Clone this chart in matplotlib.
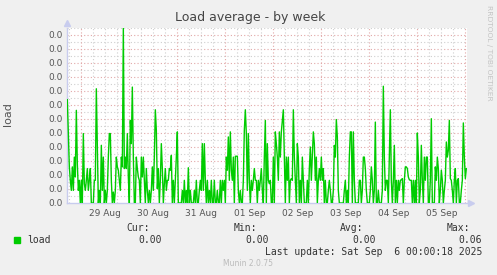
import numpy as np
import pandas as pd
import matplotlib
matplotlib.use('Agg')
import matplotlib.pyplot as plt
from matplotlib.ticker import FuncFormatter

# load average, 30 minute samples
load = [
    0.0369, 0.0248, 0.0129, 0.0081, 0.0045, 0.0129, 0.0045, 0.0164, 0.0093, 0.0331, 0.0140,
    0.0045, 0.0081, 0.0000, 0.0081, 0.0000, 0.0248, 0.0069, 0.0045, 0.0081, 0.0123,
    0.0045, 0.0081,
    0.0123, 0.0000, 0.0000, 0.0000, 0.0081, 0.0081, 0.0408, 0.0212, 0.0000,
    0.0045, 0.0000, 0.0206, 0.0045, 0.0164, 0.0000, 0.0045, 0.0000, 0.0045, 0.0164,
    0.0248, 0.0248, 0.0081, 0.0000, 0.0039, 0.0000, 0.0045, 0.0164, 0.0129, 0.0117,
    0.0081, 0.0045, 0.0164, 0.0129, 0.0626, 0.0123, 0.0164, 0.0123, 0.0248, 0.0093,
    0.0000, 0.0295, 0.0212, 0.0414, 0.0164, 0.0000, 0.0000, 0.0164, 0.0123, 0.0093,
    0.0081, 0.0000, 0.0164, 0.0093, 0.0164, 0.0081, 0.0000, 0.0123, 0.0045, 0.0000,
    0.0045, 0.0000, 0.0045, 0.0129, 0.0045, 0.0164, 0.0333, 0.0260, 0.0051, 0.0123,
    0.0000, 0.0081, 0.0212, 0.0123, 0.0000, 0.0069, 0.0123, 0.0045, 0.0081, 0.0081,
    # 30/31 Aug
    0.0123, 0.0117, 0.0170, 0.0000, 0.0081, 0.0000, 0.0081, 0.0164, 0.0254, 0.0000,
    0.0000, 0.0000, 0.0000, 0.0045, 0.0000, 0.0081, 0.0000, 0.0045, 0.0000, 0.0126,
    0.0000, 0.0045, 0.0000, 0.0000, 0.0000, 0.0045, 0.0000, 0.0081, 0.0000, 0.0000,
    0.0045, 0.0081, 0.0045, 0.0212, 0.0045, 0.0212, 0.0081, 0.0000, 0.0081, 0.0000,
    0.0045, 0.0000, 0.0081, 0.0000, 0.0000, 0.0081, 0.0000, 0.0000, 0.0045, 0.0000,
    0.0000, 0.0081, 0.0000, 0.0081, 0.0045, 0.0081, 0.0000, 0.0164, 0.0117, 0.0236,
    0.0081, 0.0254, 0.0117, 0.0081, 0.0164, 0.0000, 0.0167, 0.0167, 0.0167, 0.0045,
    0.0000, 0.0045, 0.0000, 0.0000, 0.0081, 0.0260, 0.0333, 0.0248, 0.0045, 0.0248,
    0.0081, 0.0000, 0.0081, 0.0045, 0.0081, 0.0123, 0.0081, 0.0081, 0.0000, 0.0081,
    0.0045, 0.0081, 0.0123, 0.0045, 0.0000, 0.0164, 0.0295, 0.0000, 0.0212, 0.0081,
    0.0069,
    # 01/02 Sep
    0.0081, 0.0000, 0.0000, 0.0164, 0.0000, 0.0254, 0.0212, 0.0164, 0.0081, 0.0254,
    0.0164, 0.0254, 0.0295, 0.0333, 0.0164, 0.0000, 0.0164, 0.0081, 0.0164, 0.0000,
    0.0081, 0.0087, 0.0081, 0.0333, 0.0164, 0.0081, 0.0000, 0.0212, 0.0164, 0.0000,
    0.0081, 0.0000, 0.0164, 0.0081, 0.0000, 0.0000, 0.0000, 0.0081, 0.0000, 0.0123,
    0.0200, 0.0081, 0.0164, 0.0254, 0.0212, 0.0081, 0.0164, 0.0000, 0.0081, 0.0123,
    0.0081, 0.0164, 0.0081, 0.0123, 0.0000, 0.0081, 0.0000, 0.0000, 0.0045, 0.0081,
    0.0045, 0.0000, 0.0000, 0.0045, 0.0206, 0.0164, 0.0298, 0.0236, 0.0045, 0.0000,
    0.0000, 0.0000, 0.0000, 0.0000, 0.0045, 0.0081, 0.0000, 0.0045, 0.0000, 0.0164,
    0.0254, 0.0254, 0.0000, 0.0254, 0.0081, 0.0000, 0.0000, 0.0000, 0.0000, 0.0081,
    0.0081, 0.0000, 0.0045, 0.0164, 0.0164, 0.0123, 0.0045, 0.0000, 0.0000, 0.0000,
    # 03 - 05 Sep
    0.0045, 0.0129, 0.0081, 0.0000, 0.0045, 0.0289, 0.0000, 0.0000, 0.0045, 0.0000,
    0.0000, 0.0000, 0.0045, 0.0417, 0.0164, 0.0045, 0.0081, 0.0081, 0.0000, 0.0164,
    0.0333, 0.0081, 0.0000, 0.0081, 0.0206, 0.0000, 0.0081, 0.0000, 0.0081, 0.0045,
    0.0081, 0.0083, 0.0087, 0.0000, 0.0081, 0.0129, 0.0129, 0.0123, 0.0093, 0.0083,
    0.0081, 0.0081, 0.0000, 0.0081, 0.0000, 0.0081, 0.0000, 0.0250, 0.0164, 0.0000,
    0.0045, 0.0206, 0.0081, 0.0000, 0.0164, 0.0081, 0.0164, 0.0164, 0.0000, 0.0000,
    0.0081, 0.0301, 0.0000, 0.0000, 0.0000, 0.0129, 0.0081, 0.0164, 0.0123, 0.0000,
    0.0045, 0.0117, 0.0081, 0.0000, 0.0045, 0.0081, 0.0218, 0.0164, 0.0188, 0.0295,
    0.0087, 0.0081, 0.0045, 0.0000, 0.0081, 0.0123, 0.0000, 0.0081, 0.0087, 0.0000,
    0.0000, 0.0045, 0.0081, 0.0286, 0.0164, 0.0087, 0.0123,
]
day_labels = ['29 Aug', '30 Aug', '31 Aug', '01 Sep', '02 Sep', '03 Sep', '04 Sep', '05 Sep']
stat_names = ['Cur:', 'Min:', 'Avg:', 'Max:']
stat_values = ['0.00', '0.00', '0.00', '0.06']

W, H = 497, 275
bg = '#F0F0F0'
text_col = '#555555'
axis_col = '#C8CCEE'

times = pd.date_range('2025-08-28 17:00', periods=len(load), freq='30min')
x0 = pd.Timestamp('2025-08-28 16:50')
x1 = x0 + pd.Timedelta(hours=200)
ymax = 0.0625

fig = plt.figure(figsize=(W / 100, H / 100), dpi=100, facecolor=bg)
ax = fig.add_axes([67 / W, 72 / H, 400 / W, 175 / H])
ax.set_facecolor('white')
ax.set_xlim(x0, x1)
ax.set_ylim(0, ymax)

# grid: grey minor, red major, both dotted
dots = (0, (1, 2))
for k in range(1, 26):
    major = k % 2 == 0
    ax.axhline(k * 0.0025, color='#E2A8A8' if major else '#CFCFCF', lw=0.8, ls=dots, zorder=1)
for t in pd.date_range('2025-08-28 18:00', x1, freq='6h'):
    major = t.hour == 0
    ax.axvline(t, color='#E2A8A8' if major else '#CFCFCF', lw=0.8, ls=dots, zorder=1)

ax.plot(times, load, color='#00CC00', lw=1.0, zorder=3)

for s in ['top', 'right']:
    ax.spines[s].set_visible(False)
for s in ['left', 'bottom']:
    ax.spines[s].set_color(axis_col)
    ax.spines[s].set_linewidth(1)
ax.plot([0], [1.03], marker='^', ms=4, color=axis_col, transform=ax.transAxes, clip_on=False)
ax.plot([1.01], [0], marker='>', ms=4, color=axis_col, transform=ax.transAxes, clip_on=False)

# rrdtool truncates, so every label reads 0.0
ax.set_yticks(np.arange(0, 0.0601, 0.005))
ax.yaxis.set_major_formatter(FuncFormatter(lambda v, p: '%.1f' % (np.floor(v * 10 + 1e-9) / 10)))
noons = pd.date_range('2025-08-29 12:00', periods=len(day_labels), freq='1D')
ax.set_xticks(noons)
ax.set_xticklabels(day_labels)
ax.tick_params(length=0, labelsize=6.5, labelcolor=text_col, pad=3)
ax.tick_params(axis='x', pad=4)

fig.text(250 / W, 1 - 18 / H, 'Load average - by week', ha='center', va='center',
         fontsize=9, color='#444444')
fig.text(8 / W, 1 - 114 / H, 'load', rotation=90, ha='center', va='center',
         fontsize=8, color=text_col)
fig.text(489 / W, 1 - 5 / H, 'RRDTOOL / TOBI OETIKER', rotation=270, ha='center', va='top',
         fontsize=5.4, color='#C4C4C4')

# legend block
mono = 'DejaVu Sans Mono'
fig.patches.append(plt.Rectangle((14 / W, 1 - 243 / H), 6 / W, 6 / H, color='#00CC00',
                                 transform=fig.transFigure))
fig.text(27 / W, 1 - 240 / H, 'load', family=mono, fontsize=7, color='#333333', va='center')
name_right = [150, 257, 363, 470]
value_right = [162, 269, 376, 482]
for name, value, nr, vr in zip(stat_names, stat_values, name_right, value_right):
    fig.text(nr / W, 1 - 228 / H, name, family=mono, fontsize=7, color='#333333',
             ha='right', va='center')
    fig.text(vr / W, 1 - 240 / H, value, family=mono, fontsize=7, color='#333333',
             ha='right', va='center')
fig.text(482 / W, 1 - 252 / H, 'Last update: Sat Sep  6 00:00:18 2025', family=mono,
         fontsize=7, color='#333333', ha='right', va='center')
fig.text(248 / W, 1 - 264 / H, 'Munin 2.0.75', ha='center', va='center',
         fontsize=5.5, color='#BBBBBB')

fig.savefig('out.png', dpi=100, facecolor=bg)
